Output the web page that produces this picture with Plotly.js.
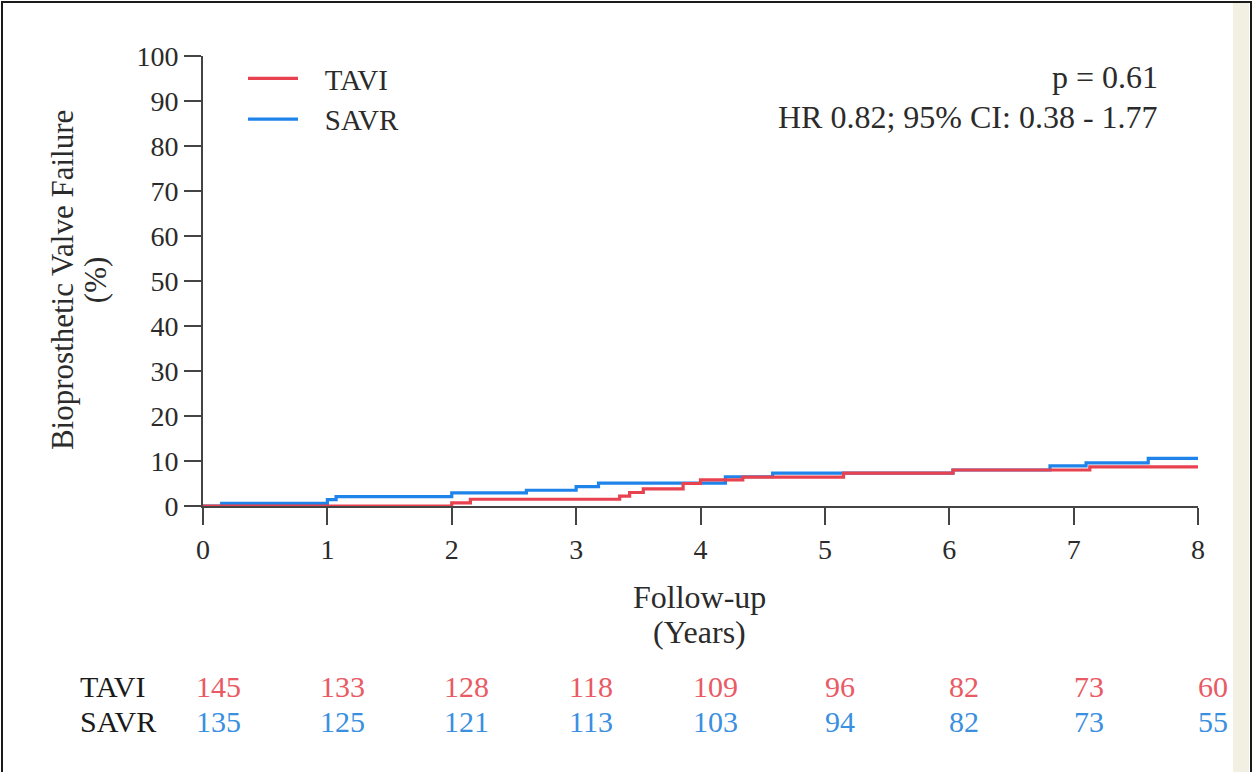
<!DOCTYPE html>
<html>
<head>
<meta charset="utf-8">
<script src="https://cdn.plot.ly/plotly-3.0.1.min.js"></script>
<style>
  html, body { margin: 0; padding: 0; background: #ffffff; }
  #wrap { position: relative; width: 1253px; height: 772px; overflow: hidden; }
  #chart { position: absolute; left: 0; top: 0; width: 1253px; height: 772px; }
  #strip { position: absolute; left: 1233px; top: 3px; width: 16px; height: 772px; background: #f1f0e2; pointer-events: none; }
  #frame { position: absolute; left: 1px; top: 1px; width: 1247px; height: 790px; border: 2px solid #1a1a1a; pointer-events: none; }
</style>
</head>
<body>
<div id="wrap">
  <div id="strip"></div>
  <div id="chart"></div>
  <div id="frame"></div>
</div>
<script>
// Kaplan-Meier step data (years, cumulative %)
const taviTime  = [0, 2.00, 2.15, 3.35, 3.43, 3.54, 3.86, 4.00, 4.34, 5.15, 6.03, 7.13, 8.00];
const taviValue = [0, 0.7,  1.5,  2.2,  3.0,  3.8,  5.0,  5.8,  6.4,  7.3,  8.0,  8.7,  8.7];

const savrTime  = [0, 0.15, 1.00, 1.07, 2.00, 2.60, 3.00, 3.18, 4.20, 4.58, 6.03, 6.81, 7.10, 7.60, 8.00];
const savrValue = [0, 0.6,  1.4,  2.1,  2.9,  3.5,  4.3,  5.1,  6.5,  7.3,  8.0,  8.9,  9.6,  10.6, 10.6];

// Numbers at risk
const riskTimes = [0, 1, 2, 3, 4, 5, 6, 7, 8];
const taviRisk  = [145, 133, 128, 118, 109, 96, 82, 73, 60];
const savrRisk  = [135, 125, 121, 113, 103, 94, 82, 73, 55];

const yTicks = [0, 10, 20, 30, 40, 50, 60, 70, 80, 90, 100];

const RED = '#e8414f';
const BLUE = '#1f84ea';
const RED_T = '#e95a64';
const BLUE_T = '#3b8fe0';
const FONT = 'Liberation Serif, Times New Roman, serif';
const TXT = '#2b2b2b';
const NB = '\u00a0\u00a0\u00a0';

const traces = [
  { x: savrTime, y: savrValue, name: NB + 'SAVR', type: 'scatter', mode: 'lines',
    line: { color: BLUE, width: 3.2, shape: 'hv' }, cliponaxis: false },
  { x: taviTime, y: taviValue, name: NB + 'TAVI', type: 'scatter', mode: 'lines',
    line: { color: RED, width: 3.2, shape: 'hv' }, cliponaxis: false }
];

function note(x, y, text, opts) {
  return Object.assign({ xref: 'paper', yref: 'paper', x: x, y: y, text: text, showarrow: false,
    xanchor: 'center', yanchor: 'middle' }, opts);
}

const annotations = [
  note(0.9618, 0.9533, 'p = 0.61', { xanchor: 'right', font: { family: FONT, size: 32, color: TXT } }),
  note(0.9618, 0.8644, 'HR 0.82; 95% CI: 0.38 - 1.77', { xanchor: 'right', font: { family: FONT, size: 32, color: TXT } }),
  note(-0.1417, 0.502, 'Bioprosthetic Valve Failure', { textangle: -90, font: { family: FONT, size: 31, color: TXT } }),
  note(-0.1085, 0.502, '(%)', { textangle: -90, font: { family: FONT, size: 31, color: TXT } }),
  note(0.4985, -0.2022, 'Follow-up', { font: { family: FONT, size: 32, color: TXT } }),
  note(0.4985, -0.28, '(Years)', { font: { family: FONT, size: 32, color: TXT } }),
  note(-0.1256, -0.40, 'TAVI', { xanchor: 'left', font: { family: FONT, size: 30, color: '#1a1a1a' } }),
  note(-0.1256, -0.478, 'SAVR', { xanchor: 'left', font: { family: FONT, size: 30, color: '#1a1a1a' } })
];
riskTimes.forEach((t, i) => {
  annotations.push({ xref: 'x', yref: 'paper', x: t, y: -0.40, xshift: 15, yanchor: 'middle',
    text: String(taviRisk[i]), showarrow: false, font: { family: FONT, size: 30, color: RED_T } });
  annotations.push({ xref: 'x', yref: 'paper', x: t, y: -0.478, xshift: 15, yanchor: 'middle',
    text: String(savrRisk[i]), showarrow: false, font: { family: FONT, size: 30, color: BLUE_T } });
});

const layout = {
  width: 1253, height: 772,
  margin: { l: 203, r: 55, t: 56, b: 266 },
  paper_bgcolor: 'rgba(0,0,0,0)', plot_bgcolor: 'rgba(0,0,0,0)',
  font: { family: FONT, size: 28, color: TXT },
  showlegend: true,
  legend: { x: 0.0402, y: 1.0067, xanchor: 'left', yanchor: 'top', traceorder: 'reversed',
    bgcolor: 'rgba(0,0,0,0)', font: { family: FONT, size: 29, color: TXT },
    itemwidth: 50, tracegroupgap: 0 },
  xaxis: {
    range: [0, 8], tickvals: riskTimes, ticktext: riskTimes.map(String),
    showgrid: false, zeroline: false, showline: true, linecolor: '#444', linewidth: 2,
    ticks: 'outside', ticklen: 17, tickwidth: 2, tickcolor: '#444',
    tickfont: { family: FONT, size: 28, color: TXT }
  },
  yaxis: {
    range: [0, 100], tickvals: yTicks, ticktext: yTicks.map(String),
    showgrid: false, zeroline: false, showline: true, linecolor: '#444', linewidth: 2,
    ticks: 'outside', ticklen: 17, tickwidth: 2, tickcolor: '#444',
    tickfont: { family: FONT, size: 28, color: TXT }
  },
  annotations: annotations
};

Plotly.newPlot('chart', traces, layout, { displayModeBar: false, staticPlot: true });
</script>
</body>
</html>
